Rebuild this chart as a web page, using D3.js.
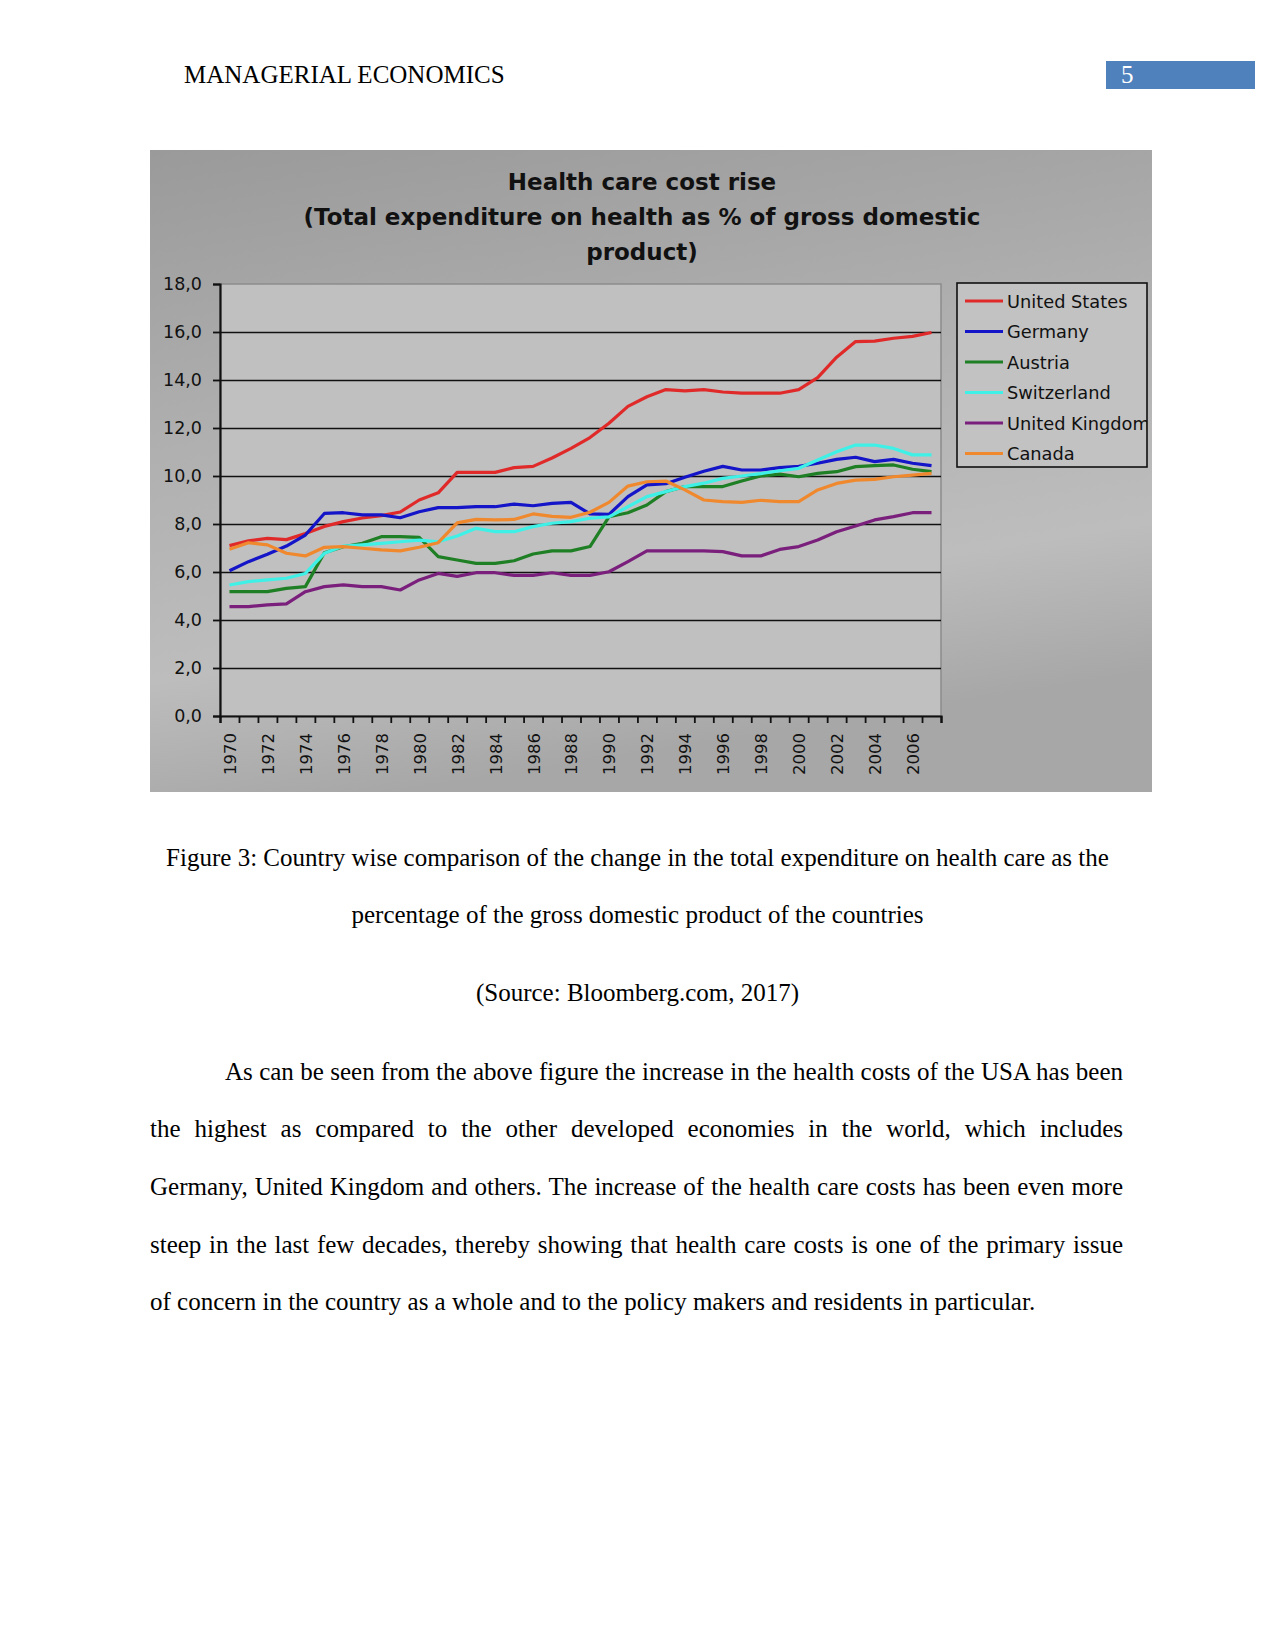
<!DOCTYPE html>
<html lang="en">
<head>
<meta charset="UTF-8">
<title>Health care cost rise</title>
<script src="https://d3js.org/d3.v7.min.js"></script>
<style>
  body { margin: 0; background: #ffffff; }
  svg { display: block; }
</style>
</head>
<body>
<svg id="page" width="1275" height="1650"></svg>
<script>
// categories and tick labels
const years = [1970, 1971, 1972, 1973, 1974, 1975, 1976, 1977, 1978, 1979,
               1980, 1981, 1982, 1983, 1984, 1985, 1986, 1987, 1988, 1989,
               1990, 1991, 1992, 1993, 1994, 1995, 1996, 1997, 1998, 1999,
               2000, 2001, 2002, 2003, 2004, 2005, 2006, 2007];
const yearLabels = [1970, 1972, 1974, 1976, 1978, 1980, 1982, 1984, 1986, 1988,
                    1990, 1992, 1994, 1996, 1998, 2000, 2002, 2004, 2006];
const yTicks = [0, 2, 4, 6, 8, 10, 12, 14, 16, 18];

// health expenditure, % of GDP
const unitedStates = [7.1, 7.3, 7.4, 7.35, 7.6, 7.9, 8.1, 8.25, 8.35, 8.5,
                      9.0, 9.3, 10.15, 10.15, 10.15, 10.35, 10.4, 10.75, 11.15, 11.6,
                      12.2, 12.9, 13.3, 13.6, 13.55, 13.6, 13.5, 13.45, 13.45, 13.45,
                      13.6, 14.1, 14.95, 15.6, 15.62, 15.74, 15.82, 15.98];
const germany = [6.05, 6.43, 6.74, 7.08, 7.54, 8.44, 8.47, 8.38, 8.38, 8.26,
                 8.51, 8.68, 8.68, 8.72, 8.72, 8.83, 8.76, 8.86, 8.9, 8.42,
                 8.4, 9.14, 9.63, 9.68, 9.95, 10.2, 10.4, 10.25, 10.25, 10.35,
                 10.4, 10.53, 10.69, 10.78, 10.6, 10.69, 10.53, 10.43];
const austria = [5.18, 5.18, 5.18, 5.32, 5.39, 6.8, 7.05, 7.2, 7.47, 7.47,
                 7.44, 6.64, 6.5, 6.36, 6.36, 6.47, 6.75, 6.88, 6.88, 7.06,
                 8.3, 8.47, 8.79, 9.35, 9.56, 9.56, 9.56, 9.79, 10.0, 10.08,
                 9.97, 10.11, 10.18, 10.39, 10.43, 10.46, 10.28, 10.18];
const switzerland = [5.46, 5.6, 5.67, 5.74, 5.94, 6.78, 7.08, 7.13, 7.19, 7.26,
                     7.33, 7.26, 7.5, 7.82, 7.68, 7.68, 7.89, 8.03, 8.1, 8.24,
                     8.3, 8.72, 9.14, 9.35, 9.56, 9.7, 9.9, 10.0, 10.1, 10.22,
                     10.32, 10.67, 11.01, 11.29, 11.29, 11.15, 10.88, 10.88];
const unitedKingdom = [4.56, 4.56, 4.63, 4.67, 5.18, 5.39, 5.46, 5.39, 5.39, 5.25,
                       5.67, 5.94, 5.82, 5.97, 5.97, 5.86, 5.86, 5.97, 5.86, 5.86,
                       6.01, 6.43, 6.88, 6.88, 6.88, 6.88, 6.85, 6.67, 6.67, 6.94,
                       7.06, 7.33, 7.68, 7.92, 8.17, 8.31, 8.47, 8.47];
const canada = [6.95, 7.22, 7.13, 6.78, 6.67, 7.03, 7.06, 6.99, 6.92, 6.88,
                7.03, 7.22, 8.05, 8.19, 8.17, 8.19, 8.42, 8.32, 8.28, 8.49,
                8.9, 9.58, 9.76, 9.79, 9.42, 9.0, 8.93, 8.9, 8.99, 8.93,
                8.93, 9.42, 9.69, 9.83, 9.86, 9.97, 10.04, 10.11];

const seriesNames = ["United States", "Germany", "Austria", "Switzerland", "United Kingdom", "Canada"];
const seriesValues = [unitedStates, germany, austria, switzerland, unitedKingdom, canada];
const seriesColors = ["#e02a2a", "#1414c8", "#1f7f24", "#3ff0e6", "#7a1f7c", "#f0882e"];

const titleLines = ["Health care cost rise",
                    "(Total expenditure on health as % of gross domestic",
                    "product)"];

const captionLines = ["Figure 3: Country wise comparison of the change in the total expenditure on health care as the",
                      "percentage of the gross domestic product of the countries",
                      "(Source: Bloomberg.com, 2017)"];
const paragraphLines = ["As can be seen from the above figure the increase in the health costs of the USA has been",
                        "the highest as compared to the other developed economies in the world, which includes",
                        "Germany, United Kingdom and others. The increase of the health care costs has been even more",
                        "steep in the last few decades, thereby showing that health care costs is one of the primary issue",
                        "of concern in the country as a whole and to the policy makers and residents in particular."];

const svg = d3.select("#page");
const serif = "'Liberation Serif', 'Times New Roman', serif";
const sans = "'DejaVu Sans', Verdana, sans-serif";

// ---- page header ----
svg.append("text").attr("x", 184).attr("y", 83)
  .attr("font-family", serif).attr("font-size", 25).attr("fill", "#000")
  .text("MANAGERIAL ECONOMICS");
svg.append("rect").attr("x", 1106).attr("y", 61).attr("width", 149).attr("height", 28)
  .attr("fill", "#4f81bd");
svg.append("text").attr("x", 1121).attr("y", 83)
  .attr("font-family", serif).attr("font-size", 25).attr("fill", "#fff")
  .text("5");

// ---- chart picture ----
const chart = { x: 150, y: 150, w: 1002, h: 642 };
const plot = { left: 220, right: 941, top: 284, bottom: 716 };

const defs = svg.append("defs");
const grad = defs.append("linearGradient").attr("id", "bg")
  .attr("x1", 0).attr("y1", 0).attr("x2", 0.25).attr("y2", 1);
grad.append("stop").attr("offset", "0%").attr("stop-color", "#9a9a9a");
grad.append("stop").attr("offset", "45%").attr("stop-color", "#b0b0b0");
grad.append("stop").attr("offset", "78%").attr("stop-color", "#bdbdbd");
grad.append("stop").attr("offset", "100%").attr("stop-color", "#a7a7a7");
defs.append("clipPath").attr("id", "legendClip")
  .append("rect").attr("x", 957).attr("y", 283).attr("width", 190).attr("height", 184);

svg.append("rect").attr("x", chart.x).attr("y", chart.y)
  .attr("width", chart.w).attr("height", chart.h).attr("fill", "url(#bg)");

// title
svg.append("g").selectAll("text").data(titleLines).join("text")
  .attr("x", 642).attr("y", (d, i) => 190 + i * 35)
  .attr("text-anchor", "middle")
  .attr("font-family", sans).attr("font-weight", "bold").attr("font-size", 23)
  .attr("fill", "#111")
  .text(d => d);

// scales
const x = d3.scaleLinear().domain([years[0] - 0.5, years[years.length - 1] + 0.5])
  .range([plot.left, plot.right]);
const y = d3.scaleLinear().domain([0, 18]).range([plot.bottom, plot.top]);

// plot area
svg.append("rect").attr("x", plot.left).attr("y", plot.top)
  .attr("width", plot.right - plot.left).attr("height", plot.bottom - plot.top)
  .attr("fill", "#c0c0c0").attr("stroke", "#8c8c8c").attr("stroke-width", 1.5);

// gridlines
svg.append("g").attr("transform", `translate(${plot.left},0)`)
  .call(d3.axisLeft(y).tickValues(yTicks.filter(v => v > 0 && v < 18))
    .tickSize(-(plot.right - plot.left)).tickFormat(""))
  .call(g => g.select(".domain").remove())
  .call(g => g.selectAll("line").attr("stroke", "#111").attr("stroke-width", 1.6));

// y axis
svg.append("g").attr("transform", `translate(${plot.left},0)`)
  .call(d3.axisLeft(y).tickValues(yTicks).tickSize(7).tickPadding(11)
    .tickFormat(d => d.toFixed(1).replace(".", ",")))
  .call(g => g.select(".domain").attr("stroke", "#111").attr("stroke-width", 2.2))
  .call(g => g.selectAll("line").attr("stroke", "#111").attr("stroke-width", 1.8))
  .call(g => g.selectAll("text").attr("font-family", sans).attr("font-size", 17.5).attr("fill", "#111"));

// x axis: ticks between categories, labels every second year
const boundaries = years.map(v => v - 0.5).concat([years[years.length - 1] + 0.5]);
svg.append("g").attr("transform", `translate(0,${plot.bottom})`)
  .call(d3.axisBottom(x).tickValues(boundaries).tickSize(7).tickFormat(""))
  .call(g => g.select(".domain").attr("stroke", "#111").attr("stroke-width", 2.2))
  .call(g => g.selectAll("line").attr("stroke", "#111").attr("stroke-width", 1.8));

svg.append("g").attr("transform", `translate(0,${plot.bottom})`)
  .call(d3.axisBottom(x).tickValues(yearLabels).tickSize(0).tickFormat(d3.format("d")))
  .call(g => g.select(".domain").remove())
  .call(g => g.selectAll("text")
    .attr("transform", "rotate(-90)")
    .attr("text-anchor", "end")
    .attr("x", -17).attr("y", 0).attr("dy", "0.36em")
    .attr("font-family", sans).attr("font-size", 16.5).attr("fill", "#111"));

// series lines
const line = d3.line().x((d, i) => x(years[i])).y(d => y(d));
svg.append("g").selectAll("path").data(seriesValues).join("path")
  .attr("d", line)
  .attr("fill", "none")
  .attr("stroke", (d, i) => seriesColors[i])
  .attr("stroke-width", 3.2)
  .attr("stroke-linejoin", "round");

// legend
const legend = svg.append("g");
legend.append("rect").attr("x", 957).attr("y", 283).attr("width", 190).attr("height", 184)
  .attr("fill", "#c2c2c2").attr("stroke", "#111").attr("stroke-width", 1.6);
const rows = legend.append("g").attr("clip-path", "url(#legendClip)")
  .selectAll("g").data(seriesNames).join("g")
  .attr("transform", (d, i) => `translate(0,${301 + i * 30.5})`);
rows.append("line").attr("x1", 965).attr("x2", 1003).attr("y1", 0).attr("y2", 0)
  .attr("stroke", (d, i) => seriesColors[i]).attr("stroke-width", 3.2);
rows.append("text").attr("x", 1007).attr("y", 6.5)
  .attr("font-family", sans).attr("font-size", 17.8).attr("fill", "#111")
  .text(d => d);

// ---- caption ----
svg.append("g").selectAll("text").data(captionLines).join("text")
  .attr("x", 637.5).attr("y", (d, i) => [866, 923, 1001][i])
  .attr("text-anchor", "middle")
  .attr("font-family", serif).attr("font-size", 25).attr("fill", "#000")
  .text(d => d);

// ---- paragraph, justified by word spacing ----
const paraTop = [1080, 1137, 1195, 1253, 1310];
const paraText = svg.append("g").selectAll("text").data(paragraphLines).join("text")
  .attr("x", (d, i) => i === 0 ? 225 : 150)
  .attr("y", (d, i) => paraTop[i])
  .attr("font-family", serif).attr("font-size", 25).attr("fill", "#000")
  .text(d => d);
paraText.each(function(d, i) {
  if (i === paragraphLines.length - 1) return;
  const start = i === 0 ? 225 : 150;
  const natural = this.getComputedTextLength();
  const gaps = d.split(" ").length - 1;
  const extra = (1123 - start - natural) / gaps;
  d3.select(this).attr("word-spacing", extra);
});
</script>
</body>
</html>
